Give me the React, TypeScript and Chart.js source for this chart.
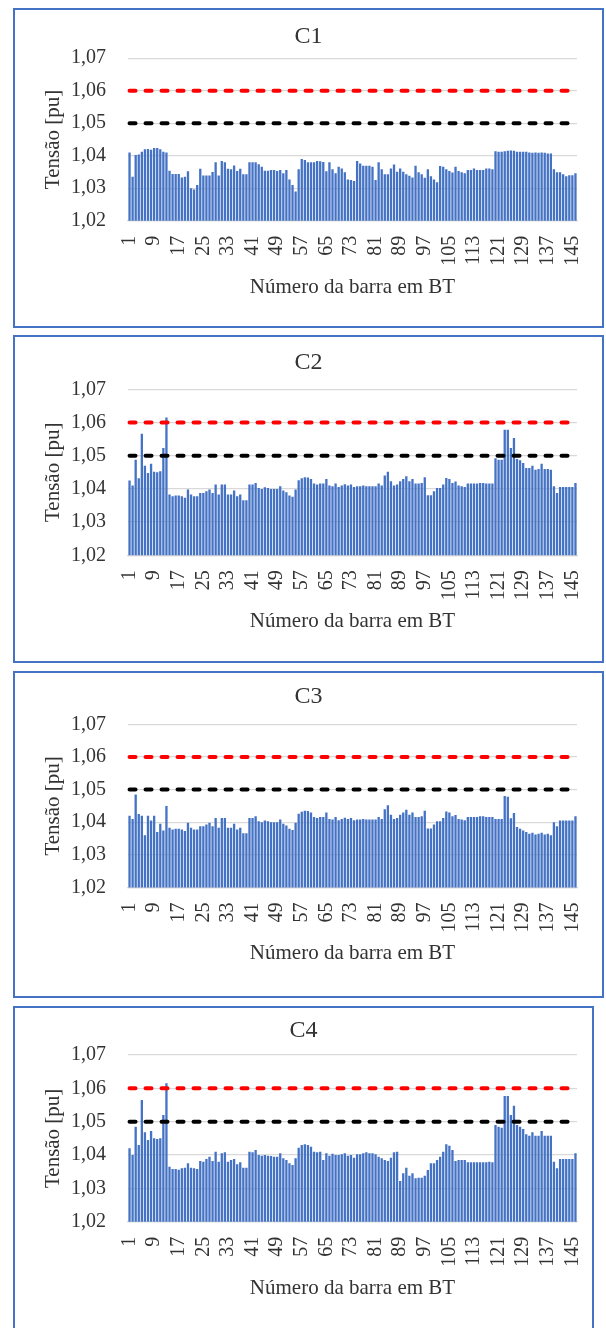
import React, { useEffect, useRef } from 'react';
import { Chart, registerables } from 'chart.js';

Chart.register(...registerables);

// ---- data ----
const barNumbers = Array.from({ length: 146 }, (_, i) => String(i + 1));
const shownTicks = ['1', '9', '17', '25', '33', '41', '49', '57', '65', '73', '81', '89', '97', '105', '113', '121', '129', '137', '145'];
const yMin = 1.02;
const yMax = 1.07;
const yStep = 0.01;
const upperLimit = 1.06;
const referenceLimit = 1.05;

const c1Values = [
  1.0410, 1.0335, 1.0402, 1.0404, 1.0412, 1.0420, 1.0421, 1.0418, 1.0424, 1.0424,
  1.0420, 1.0412, 1.0410, 1.0354, 1.0344, 1.0344, 1.0344, 1.0333, 1.0335, 1.0352,
  1.0300, 1.0296, 1.0310, 1.0360, 1.0339, 1.0339, 1.0339, 1.0350, 1.0380, 1.0339,
  1.0384, 1.0380, 1.0360, 1.0358, 1.0370, 1.0353, 1.0360, 1.0343, 1.0343, 1.0380,
  1.0380, 1.0380, 1.0374, 1.0366, 1.0354, 1.0354, 1.0356, 1.0356, 1.0353, 1.0356,
  1.0346, 1.0356, 1.0327, 1.0310, 1.0290, 1.0358, 1.0390, 1.0387, 1.0380, 1.0380,
  1.0380, 1.0384, 1.0383, 1.0381, 1.0352, 1.0380, 1.0358, 1.0346, 1.0366, 1.0361,
  1.0349, 1.0327, 1.0325, 1.0322, 1.0384, 1.0376, 1.0369, 1.0369, 1.0369, 1.0366,
  1.0325, 1.0380, 1.0358, 1.0343, 1.0343, 1.0361, 1.0373, 1.0351, 1.0361, 1.0351,
  1.0343, 1.0338, 1.0333, 1.0369, 1.0349, 1.0343, 1.0332, 1.0358, 1.0337, 1.0327,
  1.0318, 1.0368, 1.0366, 1.0358, 1.0353, 1.0348, 1.0366, 1.0353, 1.0349, 1.0346,
  1.0356, 1.0356, 1.0361, 1.0356, 1.0356, 1.0356, 1.0361, 1.0361, 1.0358, 1.0414,
  1.0412, 1.0412, 1.0414, 1.0415, 1.0416, 1.0415, 1.0412, 1.0412, 1.0412, 1.0412,
  1.0410, 1.0409, 1.0410, 1.0409, 1.0410, 1.0409, 1.0407, 1.0407, 1.0358, 1.0349,
  1.0349, 1.0343, 1.0337, 1.0340, 1.0340, 1.0346,
];

const c2Values = [
  1.0425, 1.0410, 1.0488, 1.0432, 1.0566, 1.0470, 1.0448, 1.0476, 1.0452, 1.0450,
  1.0453, 1.0523, 1.0615, 1.0383, 1.0378, 1.0380, 1.0380, 1.0378, 1.0373, 1.0398,
  1.0383, 1.0378, 1.0378, 1.0388, 1.0388, 1.0393, 1.0398, 1.0388, 1.0413, 1.0383,
  1.0413, 1.0413, 1.0383, 1.0383, 1.0395, 1.0378, 1.0383, 1.0366, 1.0366, 1.0413,
  1.0413, 1.0418, 1.0403, 1.0400, 1.0405, 1.0403, 1.0400, 1.0400, 1.0400, 1.0408,
  1.0395, 1.0390, 1.0380, 1.0376, 1.0398, 1.0426, 1.0432, 1.0435, 1.0434, 1.0430,
  1.0416, 1.0413, 1.0416, 1.0416, 1.0430, 1.0410, 1.0408, 1.0416, 1.0406, 1.0410,
  1.0414, 1.0410, 1.0413, 1.0406, 1.0408, 1.0408, 1.0410, 1.0408, 1.0408, 1.0408,
  1.0408, 1.0416, 1.0410, 1.0440, 1.0452, 1.0423, 1.0410, 1.0413, 1.0423, 1.0430,
  1.0438, 1.0423, 1.0430, 1.0416, 1.0416, 1.0418, 1.0435, 1.0381, 1.0381, 1.0393,
  1.0403, 1.0403, 1.0413, 1.0433, 1.0430, 1.0418, 1.0422, 1.0410, 1.0408, 1.0406,
  1.0416, 1.0416, 1.0416, 1.0416, 1.0418, 1.0418, 1.0416, 1.0416, 1.0416, 1.0492,
  1.0488, 1.0488, 1.0578, 1.0578, 1.0523, 1.0553, 1.0490, 1.0486, 1.0478, 1.0463,
  1.0463, 1.0470, 1.0458, 1.0460, 1.0476, 1.0460, 1.0460, 1.0458, 1.0408, 1.0388,
  1.0406, 1.0406, 1.0406, 1.0406, 1.0406, 1.0418,
];

const c3Values = [
  1.0420, 1.0410, 1.0485, 1.0425, 1.0420, 1.0360, 1.0420, 1.0405, 1.0420, 1.0370,
  1.0395, 1.0375, 1.0450, 1.0383, 1.0378, 1.0380, 1.0380, 1.0378, 1.0373, 1.0398,
  1.0383, 1.0378, 1.0378, 1.0388, 1.0388, 1.0393, 1.0398, 1.0388, 1.0413, 1.0383,
  1.0413, 1.0413, 1.0383, 1.0383, 1.0395, 1.0378, 1.0383, 1.0366, 1.0366, 1.0413,
  1.0413, 1.0418, 1.0403, 1.0400, 1.0405, 1.0403, 1.0400, 1.0400, 1.0400, 1.0408,
  1.0395, 1.0390, 1.0380, 1.0376, 1.0398, 1.0426, 1.0432, 1.0435, 1.0434, 1.0430,
  1.0416, 1.0413, 1.0416, 1.0416, 1.0430, 1.0410, 1.0408, 1.0416, 1.0406, 1.0410,
  1.0414, 1.0410, 1.0413, 1.0406, 1.0408, 1.0408, 1.0410, 1.0408, 1.0408, 1.0408,
  1.0408, 1.0416, 1.0410, 1.0440, 1.0452, 1.0423, 1.0410, 1.0413, 1.0423, 1.0430,
  1.0438, 1.0423, 1.0430, 1.0416, 1.0416, 1.0418, 1.0435, 1.0381, 1.0381, 1.0393,
  1.0403, 1.0403, 1.0413, 1.0433, 1.0430, 1.0418, 1.0422, 1.0410, 1.0408, 1.0406,
  1.0416, 1.0416, 1.0416, 1.0416, 1.0418, 1.0418, 1.0416, 1.0416, 1.0416, 1.0410,
  1.0410, 1.0410, 1.0480, 1.0478, 1.0412, 1.0428, 1.0385, 1.0380, 1.0375, 1.0370,
  1.0365, 1.0368, 1.0362, 1.0365, 1.0368, 1.0362, 1.0365, 1.0360, 1.0400, 1.0388,
  1.0405, 1.0405, 1.0405, 1.0405, 1.0405, 1.0418,
];

const c4Values = [
  1.0420, 1.0400, 1.0485, 1.0430, 1.0565, 1.0468, 1.0445, 1.0472, 1.0450, 1.0448,
  1.0450, 1.0520, 1.0615, 1.0365, 1.0358, 1.0358, 1.0356, 1.0360, 1.0362, 1.0375,
  1.0362, 1.0360, 1.0358, 1.0382, 1.0380, 1.0388, 1.0395, 1.0382, 1.0410, 1.0380,
  1.0405, 1.0408, 1.0380, 1.0385, 1.0388, 1.0372, 1.0378, 1.0362, 1.0362, 1.0410,
  1.0408, 1.0415, 1.0400, 1.0398, 1.0400, 1.0398, 1.0397, 1.0395, 1.0395, 1.0405,
  1.0390, 1.0385, 1.0375, 1.0370, 1.0390, 1.0422, 1.0430, 1.0432, 1.0430, 1.0425,
  1.0410, 1.0408, 1.0410, 1.0385, 1.0405, 1.0398, 1.0404, 1.0400, 1.0400, 1.0402,
  1.0405, 1.0398, 1.0400, 1.0392, 1.0402, 1.0402, 1.0405, 1.0408, 1.0405, 1.0405,
  1.0402, 1.0395, 1.0390, 1.0385, 1.0382, 1.0392, 1.0408, 1.0410, 1.0322, 1.0345,
  1.0362, 1.0338, 1.0345, 1.0330, 1.0332, 1.0332, 1.0338, 1.0355, 1.0375, 1.0375,
  1.0385, 1.0395, 1.0410, 1.0432, 1.0428, 1.0415, 1.0382, 1.0385, 1.0385, 1.0385,
  1.0378, 1.0378, 1.0378, 1.0378, 1.0378, 1.0378, 1.0378, 1.0380, 1.0378, 1.0490,
  1.0485, 1.0482, 1.0577, 1.0577, 1.0520, 1.0548, 1.0490, 1.0485, 1.0478, 1.0462,
  1.0458, 1.0468, 1.0458, 1.0458, 1.0472, 1.0458, 1.0458, 1.0458, 1.0380, 1.0360,
  1.0388, 1.0388, 1.0388, 1.0388, 1.0388, 1.0405,
];

// ---- layout (page coordinates) ----
const SERIF = "'Liberation Serif', 'Times New Roman', serif";
const TEXT = '#333333';
const GRID = '#D9D9D9';
const BAR = '#4472C4';
const FRAME = '#4472C4';
const BORDER = 2;
const BOX_LEFT = 13;
const PLOT_LEFT = 128;
const PLOT_RIGHT = 577;
const Y_LABEL_RIGHT = 106;
const Y_TITLE_X = 53;

const panels = [
  { title: 'C1', values: c1Values, top: 8, height: 320, right: 604, titleY: 37, plotTop: 58.2, plotBottom: 220.7, xTitleY: 287 },
  { title: 'C2', values: c2Values, top: 335, height: 328, right: 604, titleY: 362.5, plotTop: 389.3, plotBottom: 555.3, xTitleY: 621 },
  { title: 'C3', values: c3Values, top: 671, height: 327, right: 604, titleY: 697, plotTop: 724.3, plotBottom: 887.5, xTitleY: 953 },
  { title: 'C4', values: c4Values, top: 1006, height: 330, right: 594, titleY: 1030.7, plotTop: 1055, plotBottom: 1221.7, xTitleY: 1288 },
];

type PanelCfg = typeof panels[number];

function Panel({ cfg }: { cfg: PanelCfg }) {
  const ref = useRef<HTMLCanvasElement>(null);
  const W = cfg.right - BOX_LEFT - 2 * BORDER;
  const H = cfg.height - 2 * BORDER;

  useEffect(() => {
    if (!ref.current) return;
    const innerTop = cfg.top + BORDER;
    const innerLeft = BOX_LEFT + BORDER;
    const plotTopC = cfg.plotTop - innerTop;
    const plotBottomC = cfg.plotBottom - innerTop;
    const titleSize = 24;
    const titleLH = titleSize * 1.2;
    const titlePadTop = cfg.titleY - innerTop - titleLH / 2;
    const titlePadBottom = Math.max(0, plotTopC - titlePadTop - titleLH);
    const axisTitleSize = 21;
    const axisTitleLH = axisTitleSize * 1.2;
    const xAxisH = cfg.xTitleY - innerTop - plotBottomC + axisTitleLH / 2;
    const padBottom = Math.max(0, H - plotBottomC - xAxisH);
    const yAxisW = PLOT_LEFT - innerLeft;
    const plotRightPad = W - (PLOT_RIGHT - innerLeft);
    const yTitlePad = Y_TITLE_X - innerLeft - axisTitleLH / 2;

    const chart = new Chart(ref.current, {
      type: 'bar',
      data: {
        labels: barNumbers,
        datasets: [
          {
            type: 'line',
            data: [{ x: barNumbers[0], y: upperLimit }, { x: barNumbers[barNumbers.length - 1], y: upperLimit }],
            borderColor: '#FF0000',
            borderWidth: 4,
            borderDash: [6, 10],
            borderCapStyle: 'round',
            pointRadius: 0,
            order: 0,
          } as any,
          {
            type: 'line',
            data: [{ x: barNumbers[0], y: referenceLimit }, { x: barNumbers[barNumbers.length - 1], y: referenceLimit }],
            borderColor: '#000000',
            borderWidth: 4,
            borderDash: [6, 10],
            borderCapStyle: 'round',
            pointRadius: 0,
            order: 1,
          } as any,
          {
            type: 'bar',
            data: cfg.values,
            backgroundColor: BAR,
            borderWidth: 0,
            barPercentage: 0.75,
            categoryPercentage: 1,
            order: 2,
          } as any,
        ],
      },
      options: {
        responsive: false,
        maintainAspectRatio: false,
        animation: false,
        layout: { padding: { left: 0, top: 0, right: 0, bottom: padBottom } },
        plugins: {
          legend: { display: false },
          tooltip: { enabled: false },
          title: {
            display: true,
            text: cfg.title,
            color: TEXT,
            font: { family: SERIF, size: titleSize, weight: 'normal', lineHeight: 1.2 },
            padding: { top: titlePadTop, bottom: titlePadBottom },
          },
        },
        scales: {
          x: {
            type: 'category',
            offset: true,
            grid: { display: false, drawTicks: false },
            border: { display: true, color: GRID, width: 1.3 },
            ticks: {
              autoSkip: false,
              maxRotation: 90,
              minRotation: 90,
              padding: 15,
              color: TEXT,
              font: { family: SERIF, size: 20 },
              callback: (_v: any, i: number) => (shownTicks.includes(barNumbers[i]) ? barNumbers[i] : ''),
            },
            title: {
              display: true,
              text: 'Número da barra em BT',
              color: TEXT,
              font: { family: SERIF, size: axisTitleSize, lineHeight: 1.2 },
              padding: { top: 0, bottom: 0 },
            },
            afterFit: (s: any) => {
              s.height = xAxisH;
              s.paddingLeft = 0;
              s.paddingRight = plotRightPad;
            },
          },
          y: {
            min: yMin,
            max: yMax,
            grid: { color: GRID, lineWidth: 1.3, drawTicks: false },
            border: { display: false },
            ticks: {
              stepSize: yStep,
              padding: PLOT_LEFT - Y_LABEL_RIGHT,
              color: TEXT,
              font: { family: SERIF, size: 20 },
              callback: (v: any) => Number(v).toFixed(2).replace('.', ','),
            },
            title: {
              display: true,
              text: 'Tensão [pu]',
              color: TEXT,
              font: { family: SERIF, size: axisTitleSize, lineHeight: 1.2 },
              padding: { top: yTitlePad, bottom: 0 },
            },
            afterFit: (s: any) => { s.width = yAxisW; },
          },
        },
      } as any,
    });
    return () => chart.destroy();
  }, [cfg]);

  return (
    <div
      style={{
        position: 'absolute',
        left: BOX_LEFT,
        top: cfg.top,
        width: cfg.right - BOX_LEFT,
        height: cfg.height,
        boxSizing: 'border-box',
        border: `${BORDER}px solid ${FRAME}`,
        background: '#ffffff',
      }}
    >
      <canvas ref={ref} width={W} height={H} style={{ display: 'block', width: W, height: H }} />
    </div>
  );
}

export default function App() {
  return (
    <div style={{ position: 'absolute', left: 0, top: 0, width: 606, height: 1328, background: '#ffffff', overflow: 'hidden' }}>
      {panels.map((p) => (
        <Panel key={p.title} cfg={p} />
      ))}
    </div>
  );
}
